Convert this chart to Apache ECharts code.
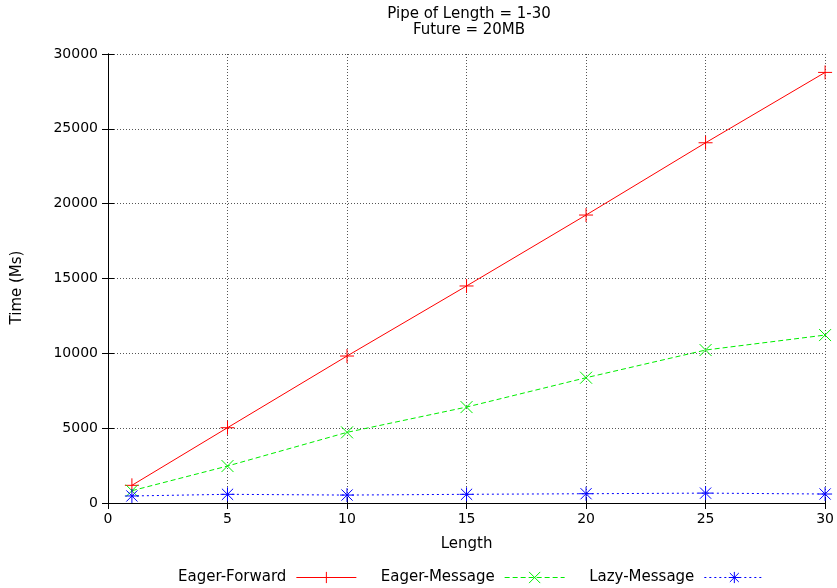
<!DOCTYPE html>
<html>
<head>
<meta charset="utf-8">
<script src="https://cdn.jsdelivr.net/npm/echarts@6/dist/echarts.min.js"></script>
<style>html,body{margin:0;padding:0;background:#fff}#c{width:837px;height:588px}</style>
</head>
<body>
<div id="c"></div>
<script>
const titleLines = ['Pipe of Length = 1-30', 'Future = 20MB'];
const xName = 'Length';
const yName = 'Time (Ms)';
const lengths = [1, 5, 10, 15, 20, 25, 30];
const eagerForward = [1180, 5030, 9820, 14500, 19240, 24070, 28770];
const eagerMessage = [820, 2470, 4720, 6410, 8370, 10220, 11220];
const lazyMessage = [470, 580, 530, 580, 620, 660, 600];
const seriesNames = ['Eager-Forward', 'Eager-Message', 'Lazy-Message'];
const seriesColors = ['#ff0000', '#00ee00', '#0000ff'];
const seriesDash = ['solid', [5, 3], [2, 3]];

const font = 'DejaVu Sans, sans-serif';
const plus = 'path://M0,-1L0,1M-1,0L1,0';
const cross = 'path://M-1,-1L1,1M-1,1L1,-1';
const star = 'path://M0,-1L0,1M-1,0L1,0M-0.8,-0.8L0.8,0.8M-0.8,0.8L0.8,-0.8';

function pairs(vals) { return lengths.map((x, i) => [x, vals[i]]); }

const chart = echarts.init(document.getElementById('c'), null, {renderer: 'canvas'});
const axisCommon = {
  axisLine: {show: true, lineStyle: {color: '#000', width: 1}},
  axisTick: {show: true, inside: true, length: 6, lineStyle: {color: '#000'}},
};
function mk(name, vals, color, symbol, size, dash) {
  return {
    name: name, type: 'line', data: pairs(vals),
    symbol: symbol, symbolSize: size,
    itemStyle: {color: color, borderColor: color, borderWidth: 1},
    lineStyle: {color: color, width: 1, type: dash},
    emphasis: {disabled: true}, animation: false
  };
}
chart.setOption({
  animation: false,
  backgroundColor: '#fff',
  textStyle: {fontFamily: font},
  title: {
    text: titleLines.join('\n'), left: 464, top: 1, textAlign: 'center',
    textStyle: {fontSize: 15, fontWeight: 'normal', color: '#000', fontFamily: font, lineHeight: 16}
  },
  grid: {left: 108, right: 11, top: 54, bottom: 85},
  legend: {
    left: 173, bottom: -2, align: 'right', itemWidth: 60, itemHeight: 14, itemGap: 24,
    textStyle: {fontSize: 15, color: '#000', fontFamily: font, padding: [0, 5, 0, 0]},
    data: seriesNames.map((n, i) => ({
      name: n,
      lineStyle: {color: seriesColors[i], width: 1, type: seriesDash[i]},
      itemStyle: {color: seriesColors[i], borderColor: seriesColors[i], borderWidth: 1}
    }))
  },
  xAxis: [
    Object.assign({type: 'value', min: 0, max: 30, interval: 5, name: xName, nameLocation: 'middle', nameGap: 34,
      nameTextStyle: {fontSize: 15, color: '#000', fontFamily: font},
      axisLabel: {fontSize: 14, color: '#000', margin: 9, fontFamily: font, formatter: v => String(v)},
      splitLine: {show: true, lineStyle: {color: '#555', type: [1, 2], width: 1}}}, axisCommon),
    Object.assign({type: 'value', min: 0, max: 30, interval: 5, position: 'top',
      axisLabel: {show: false}, splitLine: {show: false}}, axisCommon)
  ],
  yAxis: [
    Object.assign({type: 'value', min: 0, max: 30000, interval: 5000, name: yName, nameLocation: 'middle', nameGap: 83,
      nameTextStyle: {fontSize: 15, color: '#000', fontFamily: font, padding: [0, 18, 0, 0]},
      axisLabel: {fontSize: 14, color: '#000', margin: 10, fontFamily: font, formatter: v => String(v)},
      splitLine: {show: true, lineStyle: {color: '#555', type: [1, 2], width: 1}}}, axisCommon),
    Object.assign({type: 'value', min: 0, max: 30000, interval: 5000, position: 'right',
      axisLabel: {show: false}, splitLine: {show: false}}, axisCommon)
  ],
  series: [
    mk(seriesNames[0], eagerForward, seriesColors[0], plus, 14, seriesDash[0]),
    mk(seriesNames[1], eagerMessage, seriesColors[1], cross, 12, seriesDash[1]),
    mk(seriesNames[2], lazyMessage, seriesColors[2], star, 14, seriesDash[2])
  ]
});
</script>
</body>
</html>
